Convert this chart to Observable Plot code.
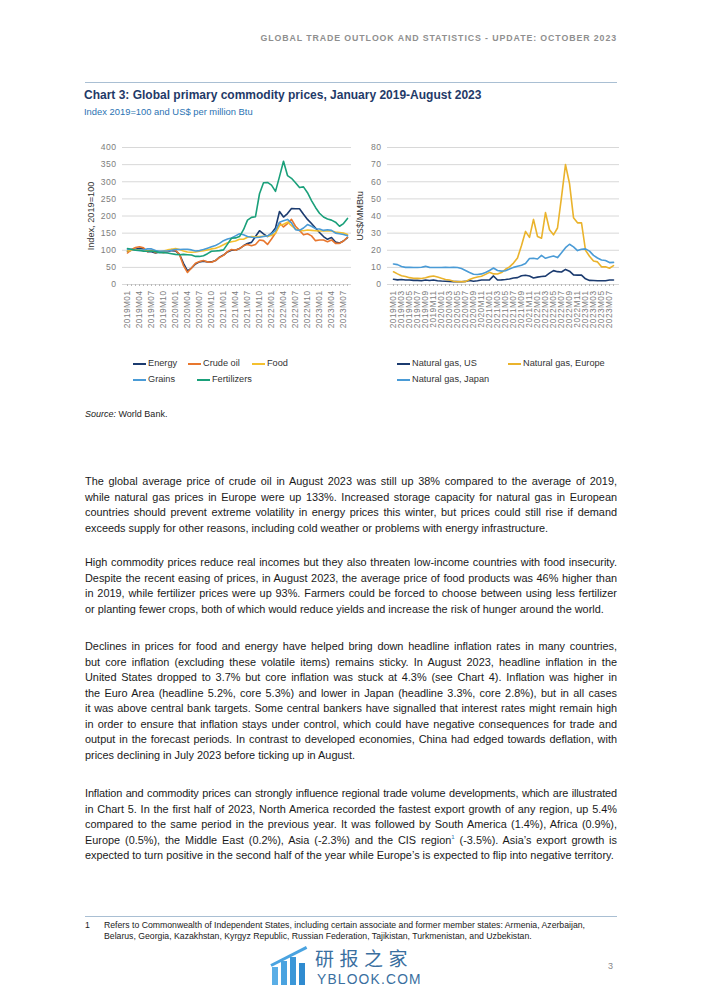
<!DOCTYPE html>
<html><head><meta charset="utf-8">
<script src="https://cdn.jsdelivr.net/npm/d3@7"></script>
<script src="https://cdn.jsdelivr.net/npm/@observablehq/plot@0.6"></script>
<style>
body{margin:0;background:#fff;}
#page{position:relative;width:702px;height:991px;overflow:hidden;font-family:"Liberation Sans",Arial,sans-serif;color:#222;background:#fff;}
.abs{position:absolute;}
.hdr{right:85px;top:33px;font-size:8.8px;font-weight:bold;letter-spacing:0.9px;color:#8f8f8f;white-space:nowrap;}
.rule{left:85px;width:532px;height:1px;background:#a9bfd3;}
.title{left:84px;top:88px;font-size:12px;line-height:14px;font-weight:bold;color:#1f3a68;white-space:nowrap;}
.sub{left:84px;top:106px;font-size:9.4px;line-height:12px;color:#2b73b3;white-space:nowrap;}
.chart{top:140px;}
.leg{font-size:9.2px;line-height:11px;color:#333;white-space:nowrap;}
.sw{width:13px;height:2px;}
.src{left:85px;top:409px;font-size:9px;line-height:11px;color:#222;}
.para{left:85px;width:532px;font-size:10.9px;line-height:15.5px;color:#1a1a1a;}
.para div{text-align:justify;text-align-last:justify;}
.para div.tight{letter-spacing:-0.12px;}
.para div.last{text-align:left;text-align-last:left;white-space:nowrap;}
.fn{font-size:8.7px;line-height:11.3px;color:#222;}
</style></head><body><div id="page">
<div class="abs hdr">GLOBAL TRADE OUTLOOK AND STATISTICS - UPDATE: OCTOBER 2023</div>
<div class="abs rule" style="top:82px"></div>
<div class="abs title">Chart 3: Global primary commodity prices, January 2019-August 2023</div>
<div class="abs sub">Index 2019=100 and US$ per million Btu</div>
<div class="abs chart" id="left" style="left:82px"></div>
<div class="abs chart" id="right" style="left:350px"></div>
<div id="legends"></div>
<div class="abs src"><i>Source:</i> World Bank.</div>

<div class="abs para" style="top:474px">
<div>The global average price of crude oil in August 2023 was still up 38% compared to the average of 2019,</div>
<div>while natural gas prices in Europe were up 133%. Increased storage capacity for natural gas in European</div>
<div>countries should prevent extreme volatility in energy prices this winter, but prices could still rise if demand</div>
<div class="last">exceeds supply for other reasons, including cold weather or problems with energy infrastructure.</div>
</div>
<div class="abs para" style="top:555px">
<div>High commodity prices reduce real incomes but they also threaten low-income countries with food insecurity.</div>
<div>Despite the recent easing of prices, in August 2023, the average price of food products was 46% higher than</div>
<div>in 2019, while fertilizer prices were up 93%. Farmers could be forced to choose between using less fertilizer</div>
<div class="last">or planting fewer crops, both of which would reduce yields and increase the risk of hunger around the world.</div>
</div>
<div class="abs para" style="top:639px">
<div>Declines in prices for food and energy have helped bring down headline inflation rates in many countries,</div>
<div>but core inflation (excluding these volatile items) remains sticky. In August 2023, headline inflation in the</div>
<div>United States dropped to 3.7% but core inflation was stuck at 4.3% (see Chart 4). Inflation was higher in</div>
<div>the Euro Area (headline 5.2%, core 5.3%) and lower in Japan (headline 3.3%, core 2.8%), but in all cases</div>
<div>it was above central bank targets. Some central bankers have signalled that interest rates might remain high</div>
<div>in order to ensure that inflation stays under control, which could have negative consequences for trade and</div>
<div>output in the forecast periods. In contrast to developed economies, China had edged towards deflation, with</div>
<div class="last">prices declining in July 2023 before ticking up in August.</div>
</div>
<div class="abs para" style="top:786px">
<div class="tight">Inflation and commodity prices can strongly influence regional trade volume developments, which are illustrated</div>
<div>in Chart 5. In the first half of 2023, North America recorded the fastest export growth of any region, up 5.4%</div>
<div>compared to the same period in the previous year. It was followed by South America (1.4%), Africa (0.9%),</div>
<div>Europe (0.5%), the Middle East (0.2%), Asia (-2.3%) and the CIS region<sup style="font-size:6px;line-height:0;color:#2b73b3">1</sup> (-3.5%). Asia’s export growth is</div>
<div class="last">expected to turn positive in the second half of the year while Europe’s is expected to flip into negative territory.</div>
</div>

<div class="abs rule" style="top:916px"></div>
<div class="abs fn" style="left:85px;top:920px">1</div>
<div class="abs fn" style="left:104px;top:920px;white-space:nowrap">Refers to Commonwealth of Independent States, including certain associate and former member states: Armenia, Azerbaijan,<br>Belarus, Georgia, Kazakhstan, Kyrgyz Republic, Russian Federation, Tajikistan, Turkmenistan, and Uzbekistan.</div>

<div class="abs" style="left:272px;top:967px;width:6px;height:18px;background:#5aaee6"></div>
<div class="abs" style="left:281px;top:961px;width:6px;height:24px;background:#4aa3e0"></div>
<div class="abs" style="left:290px;top:957px;width:6px;height:28px;background:#3b97d8"></div>
<div class="abs" style="left:299px;top:963px;width:6px;height:22px;background:#2f8bd0"></div>
<div class="abs" style="left:271px;top:964px;width:40px;height:3px;background:#4aa3e0;transform:rotate(-27deg);transform-origin:left center"></div>
<div class="abs" style="left:315px;top:943.5px;font-family:'Noto Sans CJK SC',sans-serif;font-size:19px;line-height:27.5px;color:#3a6f9f;letter-spacing:5.5px;white-space:nowrap">研报之家</div>
<div class="abs" style="left:317px;top:971.5px;font-family:'Liberation Sans',Arial,sans-serif;font-size:13.8px;line-height:15.9px;color:#3a6f9f;letter-spacing:1.2px;white-space:nowrap">YBLOOK.COM</div>
<div class="abs" style="left:608px;top:961px;font-size:9px;color:#888">3</div>
</div>
<script>
const months = ["2019M01","2019M02","2019M03","2019M04","2019M05","2019M06","2019M07","2019M08","2019M09","2019M10","2019M11","2019M12",
"2020M01","2020M02","2020M03","2020M04","2020M05","2020M06","2020M07","2020M08","2020M09","2020M10","2020M11","2020M12",
"2021M01","2021M02","2021M03","2021M04","2021M05","2021M06","2021M07","2021M08","2021M09","2021M10","2021M11","2021M12",
"2022M01","2022M02","2022M03","2022M04","2022M05","2022M06","2022M07","2022M08","2022M09","2022M10","2022M11","2022M12",
"2023M01","2023M02","2023M03","2023M04","2023M05","2023M06","2023M07","2023M08"];
const leftTicks = ["2019M01","2019M04","2019M07","2019M10","2020M01","2020M04","2020M07","2020M10","2021M01","2021M04","2021M07","2021M10","2022M01","2022M04","2022M07","2022M10","2023M01","2023M04","2023M07"];
const rightTicks = ["2019M01","2019M03","2019M05","2019M07","2019M09","2019M11","2020M01","2020M03","2020M05","2020M07","2020M09","2020M11","2021M01","2021M03","2021M05","2021M07","2021M09","2021M11","2022M01","2022M03","2022M05","2022M07","2022M09","2022M11","2023M01","2023M03","2023M05","2023M07"];
const leftYTicks = [0,50,100,150,200,250,300,350,400];
const rightYTicks = [0,10,20,30,40,50,60,70,80];

const energy = [97,100,103,106,104,96,96,92,95,94,96,99, 98,88,62,40,48,60,66,68,66,66,70,80, 86,95,100,100,105,113,120,123,140,157,148,140, 150,165,213,197,207,222,221,221,205,190,178,165, 152,140,132,137,124,121,127,137];
const crudeOil = [92,102,108,110,107,96,100,93,96,93,97,102, 100,88,55,35,48,62,67,70,66,65,70,79, 85,96,102,100,105,113,117,113,117,130,128,117, 133,150,180,168,178,190,170,158,145,148,142,128, 130,130,125,130,120,120,127,138];
const food = [98,100,101,100,99,97,98,97,96,98,101,103, 105,102,98,95,94,95,97,99,101,104,106,110, 116,122,125,127,132,132,138,140,139,140,141,141, 143,150,172,176,182,172,162,158,157,159,158,157, 156,156,157,156,153,152,150,146];
const grains = [103,102,100,99,101,104,104,99,97,98,98,100, 102,102,103,103,101,98,99,102,106,110,114,120, 128,133,136,142,148,145,140,138,137,138,140,142, 148,158,182,186,190,180,160,158,165,175,170,163, 162,158,160,158,150,148,146,142];
const fertilizers = [105,103,100,100,97,97,98,96,93,93,92,90, 88,87,88,87,86,82,82,84,90,97,98,99, 101,118,135,136,140,160,188,196,198,265,297,298, 290,272,315,360,318,310,297,283,285,268,245,225, 208,197,191,188,182,170,178,193];

const gasUS = [3.1,2.7,2.9,2.6,2.6,2.4,2.4,2.2,2.6,2.3,2.6,2.2, 2.0,1.9,1.8,1.7,1.7,1.6,1.8,2.3,1.9,2.2,2.6,2.6, 2.7,5.0,2.6,2.7,2.9,3.2,3.8,4.0,5.1,5.4,5.0,3.8, 4.3,4.7,4.9,6.6,8.1,7.5,7.3,8.8,7.8,5.6,5.5,5.5, 3.3,2.4,2.3,2.2,2.2,2.2,2.6,2.6];
const gasEurope = [7.4,6.2,5.1,4.7,4.0,3.6,3.6,3.5,3.9,4.6,5.0,4.4, 3.6,2.9,2.6,1.9,1.6,1.7,1.7,2.9,3.8,4.4,4.8,5.9, 7.1,6.2,6.1,7.0,8.9,10.3,12.5,15.5,22.8,31.0,27.5,38.0, 28.0,27.0,42.0,32.0,29.0,33.0,51.0,70.0,59.0,39.0,36.0,36.0, 20.0,16.5,13.7,13.2,10.3,10.3,9.5,11.0];
const gasJapan = [12.0,11.6,10.5,10.0,10.0,9.9,9.9,10.1,10.6,10.0,9.9,9.9, 9.9,10.0,9.9,10.1,9.9,9.3,8.2,7.0,6.0,5.8,6.2,7.0, 8.2,9.6,8.2,7.8,8.0,9.0,10.0,10.6,11.2,12.2,15.2,15.3, 14.9,17.0,15.3,16.0,16.6,15.7,18.5,21.5,23.5,22.0,19.8,20.6, 20.8,19.5,17.0,15.5,14.3,14.0,12.8,12.9];

const leftSeries = ["Energy","Crude oil","Food","Grains","Fertilizers"];
const leftValues = [energy, crudeOil, food, grains, fertilizers];
const leftColors = ["#1b3b6f","#e8772e","#f4c02f","#4a9bd6","#1aa07a"];
const rightSeries = ["Natural gas, US","Natural gas, Europe","Natural gas, Japan"];
const rightValues = [gasUS, gasEurope, gasJapan];
const rightColors = ["#1b3b6f","#eab32c","#4a9bd6"];

const toLong = (series, values) => series.flatMap((s, k) => values[k].map((v, i) => ({month: months[i], series: s, value: v})));

function makeChart(data, series, colors, yTicks, xTicks, yLabel, marginLeft, labelOffset, yMax) {
  const svg = Plot.plot({
    width: 271, height: 205, marginTop: 7, marginLeft, marginRight: 2, marginBottom: 61,
    style: {fontFamily: "'Liberation Sans', Arial, sans-serif", fontSize: "8.3px", color: "#7d7d7d", background: "transparent", overflow: "visible", letterSpacing: "0.45px"},
    x: {type: "point", domain: months, padding: 0},
    y: {domain: [0, yMax]},
    color: {domain: series, range: colors},
    marks: [
      Plot.gridY(yTicks, {stroke: "#d8d8d8", strokeOpacity: 1}),
      Plot.axisY(yTicks, {tickSize: 0, tickPadding: 6, fontSize: 8.6, label: yLabel, labelAnchor: "center", labelArrow: "none", labelOffset}),
      Plot.axisX({ticks: months, tickSize: 2, tickFormat: () => "", stroke: "#b8b8b8", label: null}),
      Plot.axisX({ticks: xTicks, tickSize: 0, tickPadding: 6, tickRotate: -90, label: null}),
      Plot.line(data, {x: "month", y: "value", z: "series", stroke: "series", strokeWidth: 1.6})
    ]
  });
  d3.select(svg).selectAll('[aria-label="y-axis label"] text, [aria-label="y-axis label"]').attr("fill", "#333").style("font-size", "9.2px").style("letter-spacing", "0px");
  return svg;
}

document.getElementById("left").appendChild(makeChart(toLong(leftSeries, leftValues), leftSeries, leftColors, leftYTicks, leftTicks, "Index, 2019=100", 40, 35, 400));
document.getElementById("right").appendChild(makeChart(toLong(rightSeries, rightValues), rightSeries, rightColors, rightYTicks, rightTicks, "US$/MMBtu", 37, 31, 80));

// legends
const legendPos = [
  [leftSeries[0], leftColors[0], 133, 364], [leftSeries[1], leftColors[1], 188, 364], [leftSeries[2], leftColors[2], 252, 364],
  [leftSeries[3], leftColors[3], 133, 380], [leftSeries[4], leftColors[4], 197, 380],
  [rightSeries[0], rightColors[0], 397, 364], [rightSeries[1], rightColors[1], 508, 364], [rightSeries[2], rightColors[2], 397, 380]
];
const lg = document.getElementById("legends");
for (const [name, col, x, y] of legendPos) {
  const sw = document.createElement("div");
  sw.className = "abs sw"; sw.style.left = x + "px"; sw.style.top = (y - 1) + "px"; sw.style.background = col;
  lg.appendChild(sw);
  const t = document.createElement("div");
  t.className = "abs leg"; t.style.left = (x + 15) + "px"; t.style.top = (y - 6) + "px"; t.textContent = name;
  lg.appendChild(t);
}
</script>
</body></html>
